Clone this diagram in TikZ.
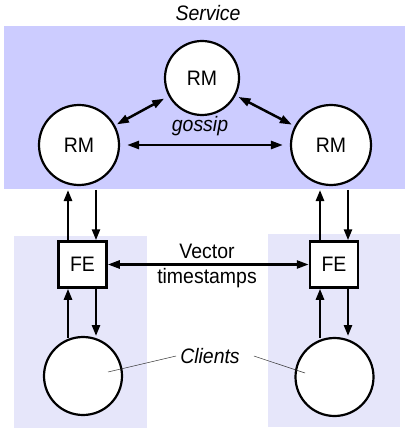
\documentclass[tikz,border=0pt]{standalone}
\usepackage{fontspec}
\setmainfont{Liberation Sans}[FakeStretch=0.93]
\usetikzlibrary{arrows.meta}
\definecolor{servbg}{RGB}{204,204,255}
\definecolor{clibg}{RGB}{230,230,250}
\tikzset{
  lbl/.style={font=\fontsize{21}{24.3}\selectfont, inner sep=0pt},
  ilbl/.style={font=\fontsize{21}{24.3}\selectfont\itshape, inner sep=0pt},
  rmnode/.style={circle, draw, fill=white, line width=2.2bp, minimum size=80bp, inner sep=0pt, font=\fontsize{21}{24}\selectfont},
  fenode/.style={rectangle, draw, fill=white, line width=2.5bp, minimum width=48bp, minimum height=46bp, inner sep=0pt, font=\fontsize{21}{24}\selectfont},
  arr/.style={line width=2.5bp, {Triangle[length=12bp,width=8bp]}-{Triangle[length=12bp,width=8bp]}},
  onearr/.style={line width=2.5bp, -{Triangle[length=11bp,width=8bp]}},
  pointer/.style={line width=0.5bp, draw=black!80}
}
\begin{document}
\begin{tikzpicture}[x=1bp,y=-1bp]
\useasboundingbox (0,0) rectangle (409,435);
% backgrounds
\fill[servbg] (4,26) rectangle (405,189);
\fill[clibg] (14,236) rectangle (147,428);
\fill[clibg] (268,234) rectangle (400,427);
% labels
\node[ilbl] (service) at (208,13) {Service};
% RMs
\node[rmnode, minimum size=74bp] (rmt) at (202,78) {RM};
\node[rmnode] (rml) at (79,145) {RM};
\node[rmnode] (rmr) at (331,145) {RM};
\node[ilbl] (gossip) at (200,126) {gossip};
% FEs
\node[fenode] (fel) at (82.5,264.5) {FE};
\node[fenode] (fer) at (334,264.5) {FE};
% clients
\node[rmnode, minimum size=78bp] (cll) at (83,376) {};
\node[rmnode, minimum size=78bp] (clr) at (334.5,377) {};
\node[ilbl] (clients) at (210,356) {Clients};
\node[lbl, align=center] (vts) at (207,266) {Vector\\timestamps};
% gossip arrows
\draw[arr, shorten <=7bp, shorten >=7bp] (rml) -- (rmr);
\draw[arr, shorten <=2bp, shorten >=5bp] (rml) -- (rmt);
\draw[arr, shorten <=3bp, shorten >=3bp] (rmt) -- (rmr);
% FE - FE
\draw[arr] (fel) -- (fer);
% FE - RM
\draw[onearr] ([xshift=-14.5bp]fel.north) -- ([xshift=-14.5bp]fel.north |- 0,190);
\draw[onearr] ([xshift=13.5bp]fel.north |- 0,190) -- ([xshift=13.5bp]fel.north);
\draw[onearr] ([xshift=-14bp]fer.north) -- ([xshift=-14bp]fer.north |- 0,190);
\draw[onearr] ([xshift=14bp]fer.north |- 0,190) -- ([xshift=14bp]fer.north);
% client - FE
\draw[onearr] ([xshift=-14.5bp]fel.south |- 0,338) -- ([xshift=-14.5bp]fel.south);
\draw[onearr] ([xshift=13.5bp]fel.south) -- ([xshift=13.5bp]fel.south |- 0,336);
\draw[onearr] ([xshift=-14bp]fer.south |- 0,338) -- ([xshift=-14bp]fer.south);
\draw[onearr] ([xshift=14bp]fer.south) -- ([xshift=14bp]fer.south |- 0,336);
% pointers
\draw[pointer] ([xshift=-4bp]clients.west) -- ([shift={(25,-4)}]cll.center);
\draw[pointer] ([xshift=14bp]clients.east) -- ([shift={(-29.5,-4)}]clr.center);
\end{tikzpicture}
\end{document}
